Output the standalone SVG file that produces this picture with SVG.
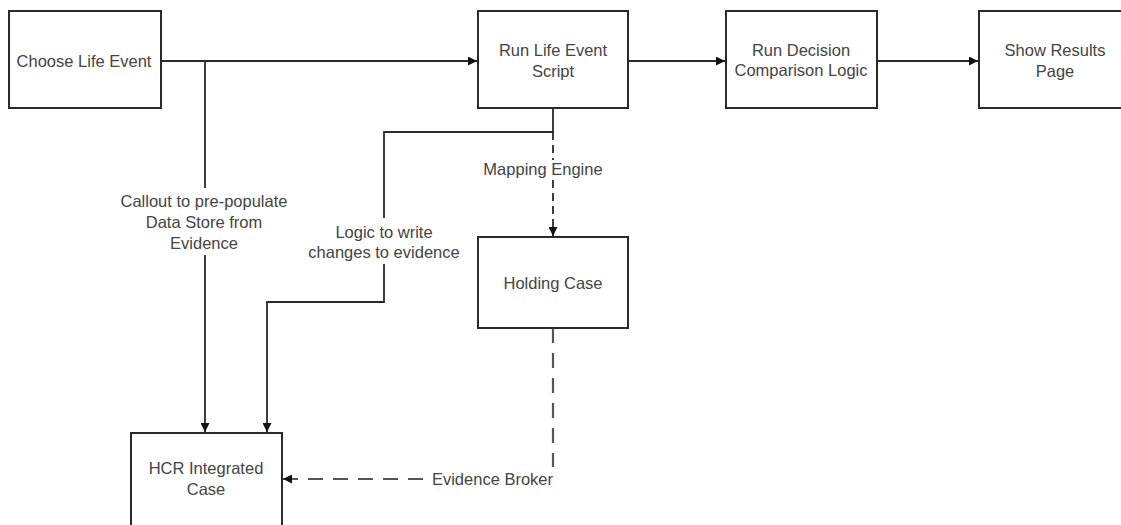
<svg xmlns="http://www.w3.org/2000/svg" width="1121" height="525" viewBox="0 0 1121 525">
<defs>
<style>
.box{fill:#fff;stroke:#2a2a2a;stroke-width:2}
.t{font-family:"Liberation Sans",Arial,sans-serif;font-size:16.5px;fill:#444;text-anchor:middle}
.c{fill:none;stroke:#2a2a2a;stroke-width:1.8}
.d1{stroke-dasharray:8,5}
.d2{stroke:#555;stroke-width:2.2;stroke-dasharray:15,10}
</style>
<marker id="a" viewBox="0 0 10 10" refX="10" refY="5" markerWidth="9" markerHeight="9" markerUnits="userSpaceOnUse" orient="auto"><path d="M0,0 L10,5 L0,10 z" fill="#111"/></marker>
</defs>
<rect width="1121" height="525" fill="#fff"/>
<g id="connectors">
<path class="c" d="M161,61 H477" marker-end="url(#a)"/>
<path class="c" d="M205,61 V188"/>
<path class="c" d="M205,255 V432" marker-end="url(#a)"/>
<path class="c" d="M628,61 H725" marker-end="url(#a)"/>
<path class="c" d="M877,61 H978" marker-end="url(#a)"/>
<path class="c" d="M553,108 V132 H384 V218"/>
<path class="c" d="M384,264 V302 H267 V432" marker-end="url(#a)"/>
<path class="c d1" d="M553,132 V160"/>
<path class="c d1" d="M553,180 V236" marker-end="url(#a)"/>
<path class="c d2" d="M553,328 V467"/>
<path class="c d2" d="M423,479 H283" marker-end="url(#a)"/>
<text class="t" x="204" y="207">Callout to pre-populate</text>
<text class="t" x="204" y="228">Data Store from</text>
<text class="t" x="204" y="249">Evidence</text>
<text class="t" x="384" y="238">Logic to write</text>
<text class="t" x="384" y="258">changes to evidence</text>
<text class="t" x="543" y="175">Mapping Engine</text>
<text class="t" x="553" y="485" style="text-anchor:end">Evidence Broker</text>
</g>
<g id="choose">
<rect class="box" x="9" y="11" width="152" height="97"/>
<text class="t" x="84" y="67">Choose Life Event</text>
</g>
<g id="runscript">
<rect class="box" x="478" y="11" width="150" height="97"/>
<text class="t" x="553" y="56">Run Life Event</text>
<text class="t" x="553" y="77">Script</text>
</g>
<g id="decision">
<rect class="box" x="726" y="11" width="151" height="97"/>
<text class="t" x="801" y="56">Run Decision</text>
<text class="t" x="801" y="76">Comparison Logic</text>
</g>
<g id="results">
<rect class="box" x="979" y="11" width="151" height="97"/>
<text class="t" x="1055" y="56">Show Results</text>
<text class="t" x="1055" y="77">Page</text>
</g>
<g id="holding">
<rect class="box" x="478" y="237" width="150" height="91"/>
<text class="t" x="553" y="289">Holding Case</text>
</g>
<g id="hcr">
<rect class="box" x="131" y="433" width="151" height="100"/>
<text class="t" x="206" y="474">HCR Integrated</text>
<text class="t" x="206" y="495">Case</text>
</g>
</svg>
